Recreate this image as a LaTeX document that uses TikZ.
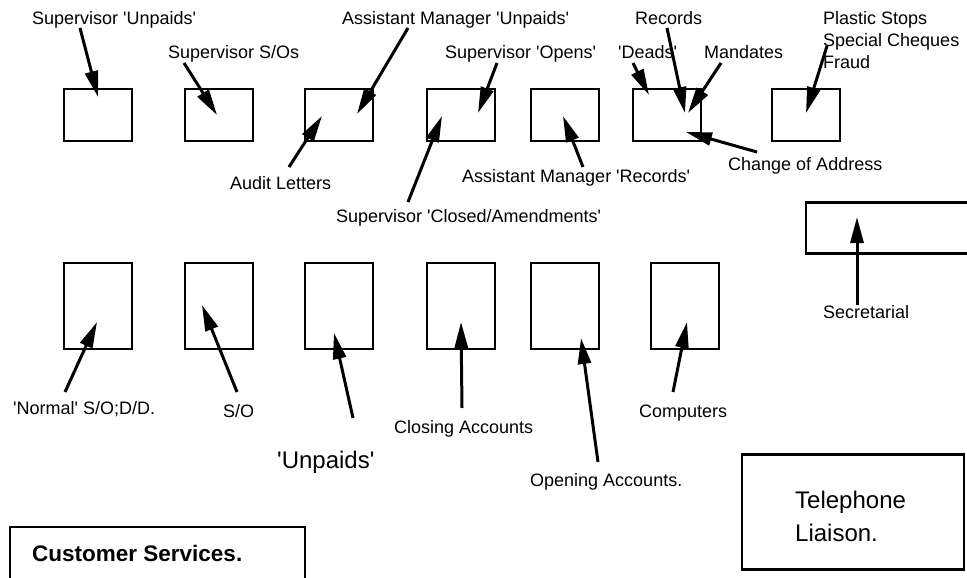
\documentclass[tikz,border=0pt]{standalone}
\usepackage{fontspec}
\setmainfont{Liberation Sans}[Ligatures=TeXOff]
\usetikzlibrary{arrows.meta}
\begin{document}
\begin{tikzpicture}[x=1pt,y=-1pt,
  box/.style={draw,line width=2.5pt,inner sep=0pt,minimum width=#1},
  box/.default=68pt,
  tb/.style={box,minimum height=52pt},
  bb/.style={box,minimum height=86pt},
  lbl/.style={anchor=base west,inner sep=0pt,font=\fontsize{18}{22}\selectfont},
  big/.style={anchor=base west,inner sep=0pt,font=\fontsize{24}{28}\selectfont},
  arr/.style={line width=3pt,-{Triangle[length=26pt,width=13pt]}},
]
\path[use as bounding box,clip] (0,0) rectangle (967,578);

% top row boxes
\node[tb] (t1) at (98,115) {};
\node[tb] (t2) at (219,115) {};
\node[tb] (t3) at (339,115) {};
\node[tb] (t4) at (461,115) {};
\node[tb] (t5) at (565,115) {};
\node[tb] (t6) at (667,115) {};
\node[tb] (t7) at (806,115) {};

% bottom row boxes
\node[bb] (b1) at (98,306) {};
\node[bb] (b2) at (219,306) {};
\node[bb] (b3) at (339,306) {};
\node[bb] (b4) at (461,306) {};
\node[bb] (b5) at (565,306) {};
\node[bb] (b6) at (685,306) {};

% right boxes
\node[box=180pt,minimum height=51pt] (sec) at (896,228) {};
\node[box=222pt,minimum height=115pt] (tel) at (853,512) {};
\node[big] (telA) at (795,508) {Telephone};
\node[big] (telB) at (795,541) {Liaison.};

% customer services
\node[box=295pt,minimum height=80pt] (cs) at (157.5,567) {};
\node[anchor=base west,inner sep=0pt,font=\fontsize{22.5}{26}\selectfont\bfseries] (csl) at (32,561) {Customer Services.};

% labels top
\node[lbl] (l1) at (32,25) {Supervisor 'Unpaids'};
\node[lbl] (l2) at (168,59) {Supervisor S/Os};
\node[lbl] (l3) at (230,189) {Audit Letters};
\node[lbl] (l4) at (342,25) {Assistant Manager 'Unpaids'};
\node[lbl] (l5) at (445,59) {Supervisor 'Opens'};
\node[lbl] (l6) at (336,222) {Supervisor 'Closed/Amendments'};
\node[lbl] (l7) at (462,182) {Assistant Manager 'Records'};
\node[lbl] (l8) at (618,59) {'Deads'};
\node[lbl] (l9) at (635,25) {Records};
\node[lbl] (l10) at (704,59) {Mandates};
\node[lbl] (l11) at (728,170) {Change of Address};
\node[lbl] (l12a) at (823,25) {Plastic Stops};
\node[lbl] (l12b) at (823,47) {Special Cheques};
\node[lbl] (l12c) at (823,69) {Fraud};

% labels bottom
\node[lbl] (m1) at (13,414) {'Normal' S/O;D/D.};
\node[lbl] (m2) at (223,417) {S/O};
\node[big] (m3) at (277,468) {'Unpaids'};
\node[lbl] (m4) at (394,433) {Closing Accounts};
\node[lbl] (m5) at (530,486) {Opening Accounts.};
\node[lbl] (m6) at (639,417) {Computers};
\node[lbl] (m7) at (823,318) {Secretarial};

% arrow coordinates
\coordinate (s1) at (80,28);   \coordinate (e1) at (98,97);
\coordinate (s2) at (184,63);  \coordinate (e2) at (217,115);
\coordinate (s3) at (289,167); \coordinate (e3) at (322,116);
\coordinate (s4) at (408,28);  \coordinate (e4) at (357,114);
\coordinate (s5) at (497,63);  \coordinate (e5) at (478,113);
\coordinate (s6) at (408,202); \coordinate (e6) at (442,116);
\coordinate (s7) at (583,167); \coordinate (e7) at (563,116);
\coordinate (s8) at (633,63);  \coordinate (e8) at (649,95);
\coordinate (s9) at (667,28);  \coordinate (e9) at (685,113);
\coordinate (s10) at (721,63); \coordinate (e10) at (688,113);
\coordinate (s11) at (757,152);\coordinate (e11) at (686,132);
\coordinate (s12) at (827,46); \coordinate (e12) at (806,113);

\coordinate (u1) at (65,392);  \coordinate (f1) at (97,322);
\coordinate (u2) at (237,392); \coordinate (f2) at (202,305);
\coordinate (u3) at (353,418); \coordinate (f3) at (334,333);
\coordinate (u4) at (462,408); \coordinate (f4) at (461,322);
\coordinate (u5) at (598,462); \coordinate (f5) at (581,338);
\coordinate (u6) at (673,392); \coordinate (f6) at (687,322);
\coordinate (u7) at (857,305); \coordinate (f7) at (857,217);

\foreach \i in {1,...,12} {\draw[arr] (s\i) -- (e\i);}
\foreach \i in {1,...,7} {\draw[arr] (u\i) -- (f\i);}
\end{tikzpicture}
\end{document}
